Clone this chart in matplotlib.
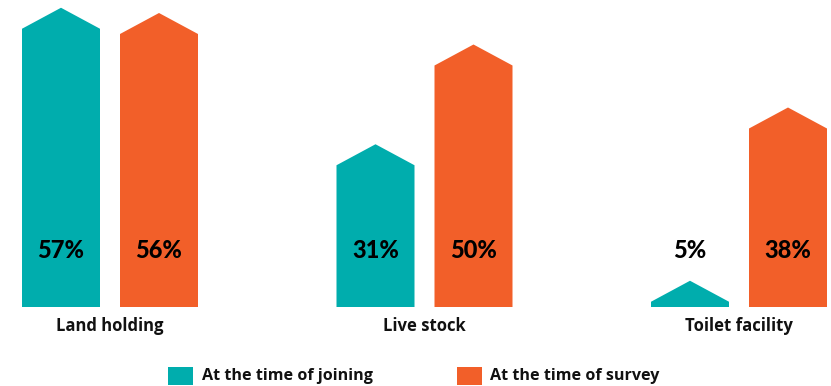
import matplotlib
matplotlib.use("Agg")
import matplotlib.pyplot as plt
from matplotlib.patches import Polygon, Rectangle

categories = ["Land holding", "Live stock", "Toilet facility"]
series_names = ["At the time of joining", "At the time of survey"]
joining = [57, 31, 5]
survey = [56, 50, 38]
colors = ["#00ADAD", "#F25F29"]

W, H = 831, 386
fig = plt.figure(figsize=(W / 100, H / 100), dpi=100)
base_px = 307
ax = fig.add_axes([0, (H - base_px) / H, 1, base_px / H])
px_per_unit_y = 5.25
ax.set_ylim(0, base_px / px_per_unit_y)
px_per_unit_x = 314.5
ax.set_xlim(-110 / px_per_unit_x, 2 + (W - 739) / px_per_unit_x)
ax.axis("off")

bar_w = 78 / px_per_unit_x
offset = 49 / px_per_unit_x
tri = 21 / px_per_unit_y
label_y = (base_px - 251) / px_per_unit_y

for i, cat in enumerate(categories):
    for j, (vals, col) in enumerate(zip([joining, survey], colors)):
        v = vals[i]
        xc = i + (-offset if j == 0 else offset)
        sh = max(v - tri, 0)
        verts = [(xc - bar_w / 2, 0), (xc - bar_w / 2, sh), (xc, v),
                 (xc + bar_w / 2, sh), (xc + bar_w / 2, 0)]
        ax.add_patch(Polygon(verts, closed=True, facecolor=col, edgecolor="none"))
        ax.text(xc, label_y, f"{v}%", ha="center", va="center",
                fontsize=17, fontweight="black", family=["Lato", "DejaVu Sans"],
                color="black")
    ax.text(i, -19 / px_per_unit_y, cat, ha="center", va="center",
            fontsize=12, fontweight="bold", family=["Open Sans", "DejaVu Sans"],
            color="#111111", clip_on=False)

# legend
leg_y = 376
for (bx, tx), name, col in zip([(168, 202), (457, 490)], series_names, colors):
    fig.patches.append(Rectangle((bx / W, (H - 385) / H), 25 / W, 18 / H,
                                 transform=fig.transFigure, facecolor=col,
                                 edgecolor="none"))
    fig.text(tx / W, (H - leg_y) / H, name, ha="left", va="center",
             fontsize=11.6, fontweight="bold", family=["Open Sans", "DejaVu Sans"],
             color="#111111")

fig.savefig("out.png", dpi=100)
